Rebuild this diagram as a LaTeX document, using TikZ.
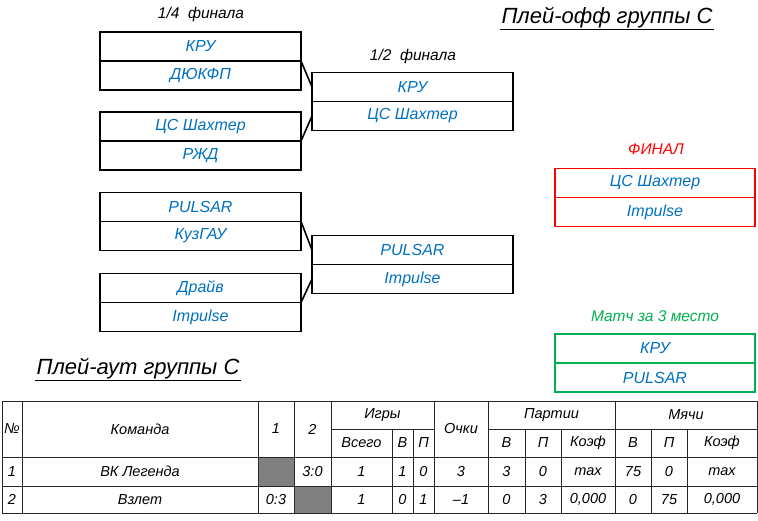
\documentclass[tikz,border=0pt]{standalone}
\usepackage{fontspec}
\setmainfont{Liberation Sans}
\definecolor{teamblue}{RGB}{0,112,192}
\definecolor{finalred}{RGB}{255,0,0}
\definecolor{thirdgreen}{RGB}{0,176,80}
\definecolor{cellgray}{RGB}{128,128,128}
\usetikzlibrary{positioning}

\begin{document}
\begin{tikzpicture}[x=1pt, y=-1pt,
  team/.style={draw, line width=1.6pt, minimum width=201pt, minimum height=29pt,
    inner sep=0pt, outer sep=0pt, font=\itshape\fontsize{16}{16}\selectfont,
    text=teamblue},
  caption/.style={font=\itshape\fontsize{15.5}{15.5}\selectfont},
  heading/.style={font=\itshape\fontsize{22}{22}\selectfont, inner sep=1pt},
  link/.style={line width=1.6pt},
  grid/.style={line width=0.8pt, draw=black!85},
  cell/.style={font=\itshape\fontsize{14.5}{14.5}\selectfont, inner sep=0pt},
]
\useasboundingbox (0,0) rectangle (758,521);

% Titles
\node[heading] (title) at (607,18) {Плей-офф группы С};
\draw[line width=1.2pt] (title.south west) -- (title.south east);
\node[caption] (quarter) at (201,14) {1/4\ \ финала};
\node[caption] (semi) at (413,56) {1/2\ \ финала};
\node[caption, text=finalred] (finlabel) at (656,149) {ФИНАЛ};
\node[caption, text=thirdgreen] (thirdlabel) at (655,316) {Матч за 3 место};

% 1/4 final
\node[team] (qf1a) at (200.5,46.5) {КРУ};
\node[team, below=0pt of qf1a] (qf1b) {ДЮКФП};
\node[team] (qf2a) at (200.5,126.5) {ЦС Шахтер};
\node[team, below=0pt of qf2a] (qf2b) {РЖД};
\node[team] (qf3a) at (200.5,207) {PULSAR};
\node[team, below=0pt of qf3a] (qf3b) {КузГАУ};
\node[team] (qf4a) at (200.5,288) {Драйв};
\node[team, below=0pt of qf4a] (qf4b) {Impulse};

% 1/2 final
\node[team] (sf1a) at (412.5,87) {КРУ};
\node[team, below=0pt of sf1a] (sf1b) {ЦС Шахтер};
\node[team] (sf2a) at (412.5,250) {PULSAR};
\node[team, below=0pt of sf2a] (sf2b) {Impulse};

% Final and match for 3rd place
\node[team, draw=finalred, minimum width=200pt] (fina) at (655,183) {ЦС Шахтер};
\node[team, draw=finalred, minimum width=200pt, below=0pt of fina] (finb) {Impulse};
\node[team, draw=thirdgreen, minimum width=200pt] (thirda) at (655,348.5) {КРУ};
\node[team, draw=thirdgreen, minimum width=200pt, below=0pt of thirda] (thirdb) {PULSAR};

% Connectors
\draw[link] (qf1b.north east) -- (sf1a.west);
\draw[link] (qf2b.north east) -- (sf1b.west);
\draw[link] (qf3b.north east) -- (sf2a.west);
\draw[link] (qf4b.north east) -- (sf2b.west);

% Play-out table
\node[heading] (outtitle) at (138,369) {Плей-аут группы С};
\draw[line width=1.2pt] (outtitle.south west) -- (outtitle.south east);

\fill[cellgray] (258,457) rectangle (294,486);
\fill[cellgray] (294,486) rectangle (331,513);
\foreach \x in {2,22,258,294,331,434,488,615,757}
  \draw[grid] (\x,401) -- (\x,513);
\foreach \x in {392,413,525,561,651,687}
  \draw[grid] (\x,429) -- (\x,513);
\foreach \y in {401,457,486,513}
  \draw[grid] (2,\y) -- (757,\y);
\draw[grid] (331,429) -- (434,429) (488,429) -- (757,429);

\node[cell] (hno) at (12,429) {№};
\node[cell] (hteam) at (140,429) {Команда};
\node[cell] (hone) at (276,429) {1};
\node[cell] (htwo) at (312.5,429) {2};
\node[cell] (hgames) at (382.5,415) {Игры};
\node[cell] (hpoints) at (461,429) {Очки};
\node[cell] (hsets) at (551.5,415) {Партии};
\node[cell] (hballs) at (686,415) {Мячи};
\foreach \x/\t [count=\i] in {361.5/Всего, 402.5/В, 423.5/П, 506.5/В, 543/П,
    588/Коэф, 633/В, 669/П, 722/Коэф}
  \node[cell] (hsub\i) at (\x,443) {\t};
\foreach \x/\t [count=\i] in {12/1, 140/ВК Легенда, 312.5/3:0, 361.5/1, 402.5/1,
    423.5/0, 461/3, 506.5/3, 543/0, 588/max, 633/75, 669/0, 722/max}
  \node[cell] (rowa\i) at (\x,471.5) {\t};
\foreach \x/\t [count=\i] in {12/2, 140/Взлет, 276/0:3, 361.5/1, 402.5/0,
    423.5/1, 461/–1, 506.5/0, 543/3, 588/{0,000}, 633/0, 669/75, 722/{0,000}}
  \node[cell] (rowb\i) at (\x,499.5) {\t};
\end{tikzpicture}
\end{document}
